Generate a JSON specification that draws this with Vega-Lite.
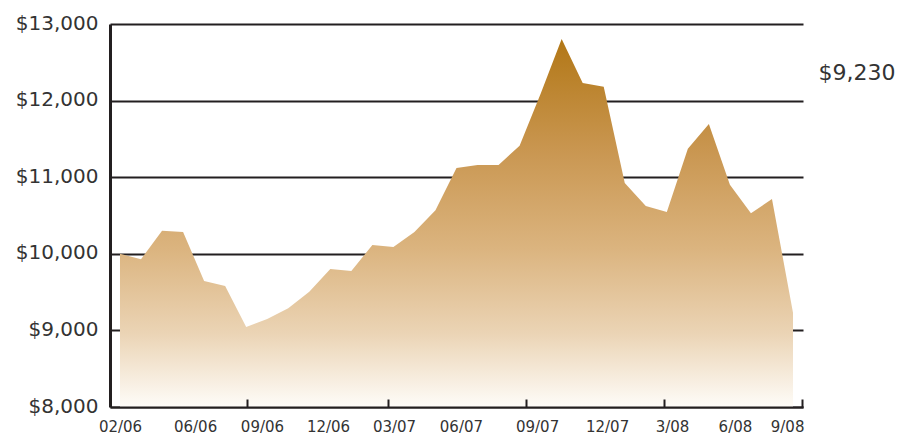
{
  "$schema": "https://vega.github.io/schema/vega-lite/v6.json",
  "width": 693,
  "height": 383,
  "autosize": {"type": "none"},
  "padding": {"left": 110, "top": 24, "right": 96, "bottom": 28},
  "background": "white",
  "config": {"view": {"stroke": null}},
  "data": {
    "values": [
      {"t": 0, "v": 10000}, {"t": 1, "v": 9930}, {"t": 2, "v": 10300}, {"t": 3, "v": 10285},
      {"t": 4, "v": 9645}, {"t": 5, "v": 9580}, {"t": 6, "v": 9045}, {"t": 7, "v": 9150},
      {"t": 8, "v": 9290}, {"t": 9, "v": 9505}, {"t": 10, "v": 9800}, {"t": 11, "v": 9775},
      {"t": 12, "v": 10115}, {"t": 13, "v": 10090}, {"t": 14, "v": 10285}, {"t": 15, "v": 10570},
      {"t": 16, "v": 11120}, {"t": 17, "v": 11160}, {"t": 18, "v": 11160}, {"t": 19, "v": 11410},
      {"t": 20, "v": 12090}, {"t": 21, "v": 12805}, {"t": 22, "v": 12230}, {"t": 23, "v": 12180},
      {"t": 24, "v": 10925}, {"t": 25, "v": 10625}, {"t": 26, "v": 10545}, {"t": 27, "v": 11370},
      {"t": 28, "v": 11695}, {"t": 29, "v": 10900}, {"t": 30, "v": 10530}, {"t": 31, "v": 10715},
      {"t": 32, "v": 9230}
    ]
  },
  "layer": [
    {
      "mark": {
        "type": "area",
        "fill": {
          "gradient": "linear", "x1": 0, "y1": 0, "x2": 0, "y2": 1,
          "stops": [
            {"offset": 0, "color": "#b27716"},
            {"offset": 0.3, "color": "#c99650"},
            {"offset": 0.57, "color": "#dbb47f"},
            {"offset": 0.8, "color": "#ebd4b5"},
            {"offset": 1, "color": "#fefcf8"}
          ]
        }
      },
      "encoding": {
        "x": {
          "field": "t", "type": "quantitative",
          "scale": {"domain": [-0.475, 32.475], "nice": false, "zero": false},
          "axis": {
            "orient": "bottom",
            "values": [6.04, 12.74, 19.31, 25.87, 32.45],
            "labels": false, "ticks": true, "tickSize": -8, "tickWidth": 2, "tickColor": "#231f20",
            "domainColor": "#231f20", "domainWidth": 2, "grid": false, "title": null, "zindex": 1
          }
        },
        "y": {
          "field": "v", "type": "quantitative",
          "scale": {"domain": [8000, 13000], "nice": false, "zero": false},
          "axis": {
            "orient": "left",
            "values": [8000, 9000, 10000, 11000, 12000, 13000],
            "format": "$,.0f", "grid": true, "gridColor": "#231f20", "gridWidth": 2,
            "ticks": false, "domainColor": "#231f20", "domainWidth": 3,
            "labelFont": "DejaVu Sans", "labelFontSize": 20, "labelColor": "#333333",
            "labelPadding": 12, "labelOffset": -1, "title": null, "zindex": 0
          }
        },
        "y2": {"datum": 8000}
      }
    },
    {
      "mark": {"type": "point", "opacity": 0},
      "encoding": {
        "x": {
          "field": "t", "type": "quantitative",
          "axis": {
            "orient": "bottom",
            "values": [0, 3.57, 6.75, 9.89, 13.03, 16.21, 19.83, 23.16, 26.25, 29.24, 31.72],
            "labelExpr": "datum.value < 1 ? '02/06' : datum.value < 5 ? '06/06' : datum.value < 8 ? '09/06' : datum.value < 11 ? '12/06' : datum.value < 14 ? '03/07' : datum.value < 18 ? '06/07' : datum.value < 21 ? '09/07' : datum.value < 24 ? '12/07' : datum.value < 27 ? '3/08' : datum.value < 30 ? '6/08' : '9/08'",
            "ticks": false, "domain": false, "grid": false,
            "labelFont": "DejaVu Sans", "labelFontSize": 15, "labelColor": "#333333",
            "labelPadding": 12, "labelFlush": false, "labelOverlap": false, "title": null, "zindex": 1
          }
        },
        "y": {"field": "v", "type": "quantitative", "axis": null}
      }
    },
    {
      "transform": [{"filter": "datum.t == 32"}],
      "mark": {"type": "text", "font": "DejaVu Sans", "fontSize": 22, "color": "#333333", "align": "center", "baseline": "middle"},
      "encoding": {
        "x": {"datum": 35.04, "type": "quantitative", "axis": null},
        "y": {"datum": 12360, "type": "quantitative", "axis": null},
        "text": {"field": "v", "type": "quantitative", "format": "$,.0f"}
      }
    }
  ],
  "resolve": {"axis": {"x": "independent", "y": "independent"}}
}
